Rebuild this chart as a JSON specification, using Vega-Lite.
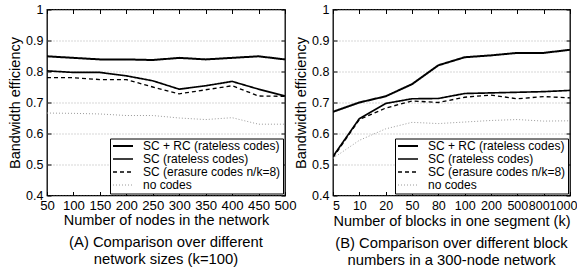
{
  "$schema": "https://vega.github.io/schema/vega-lite/v6.json",
  "background": "white",
  "padding": {"left": 6, "top": 2.5, "right": 4, "bottom": 2},
  "spacing": 48,
  "bounds": "flush",
  "config": {
    "font": "Liberation Sans",
    "view": {"stroke": "black", "strokeWidth": 1.3},
    "axis": {
      "labelFont": "Liberation Sans",
      "titleFont": "Liberation Sans",
      "labelFontSize": 12.5,
      "titleFontSize": 14.5,
      "titleFontWeight": "normal",
      "labelColor": "black",
      "titleColor": "black",
      "tickColor": "black",
      "domain": false,
      "tickSize": -4,
      "labelPadding": 8,
      "labelFlush": false,
      "labelOverlap": false,
      "labelBound": false,
      "gridColor": "#9a9a9a",
      "gridDash": [1, 2],
      "gridWidth": 0.8
    },
    "axisX": {"labelFontSize": 13.2},
    "legend": {
      "orient": "bottom-right",
      "offset": 2,
      "fillColor": "white",
      "strokeColor": "black",
      "padding": 2,
      "symbolType": "stroke",
      "symbolSize": 400,
      "clipHeight": 11,
      "labelFontSize": 12,
      "labelFont": "Liberation Sans",
      "labelColor": "black",
      "rowPadding": 0,
      "labelOffset": 9,
      "title": null
    },
    "title": {"font": "Liberation Sans", "fontSize": 14.8, "fontWeight": "normal", "color": "black", "lineHeight": 17}
  },
  "datasets": {
    "A": [
      {"n": 50, "series": "SC + RC (rateless codes)", "eff": 0.849},
      {"n": 100, "series": "SC + RC (rateless codes)", "eff": 0.844},
      {"n": 150, "series": "SC + RC (rateless codes)", "eff": 0.839},
      {"n": 200, "series": "SC + RC (rateless codes)", "eff": 0.839},
      {"n": 250, "series": "SC + RC (rateless codes)", "eff": 0.837},
      {"n": 300, "series": "SC + RC (rateless codes)", "eff": 0.844},
      {"n": 350, "series": "SC + RC (rateless codes)", "eff": 0.839},
      {"n": 400, "series": "SC + RC (rateless codes)", "eff": 0.844},
      {"n": 450, "series": "SC + RC (rateless codes)", "eff": 0.849},
      {"n": 500, "series": "SC + RC (rateless codes)", "eff": 0.839},
      {"n": 50, "series": "SC (rateless codes)", "eff": 0.802},
      {"n": 100, "series": "SC (rateless codes)", "eff": 0.797},
      {"n": 150, "series": "SC (rateless codes)", "eff": 0.797},
      {"n": 200, "series": "SC (rateless codes)", "eff": 0.786},
      {"n": 250, "series": "SC (rateless codes)", "eff": 0.770},
      {"n": 300, "series": "SC (rateless codes)", "eff": 0.743},
      {"n": 350, "series": "SC (rateless codes)", "eff": 0.754},
      {"n": 400, "series": "SC (rateless codes)", "eff": 0.768},
      {"n": 450, "series": "SC (rateless codes)", "eff": 0.743},
      {"n": 500, "series": "SC (rateless codes)", "eff": 0.721},
      {"n": 50, "series": "SC (erasure codes n/k=8)", "eff": 0.780},
      {"n": 100, "series": "SC (erasure codes n/k=8)", "eff": 0.780},
      {"n": 150, "series": "SC (erasure codes n/k=8)", "eff": 0.774},
      {"n": 200, "series": "SC (erasure codes n/k=8)", "eff": 0.774},
      {"n": 250, "series": "SC (erasure codes n/k=8)", "eff": 0.750},
      {"n": 300, "series": "SC (erasure codes n/k=8)", "eff": 0.728},
      {"n": 350, "series": "SC (erasure codes n/k=8)", "eff": 0.741},
      {"n": 400, "series": "SC (erasure codes n/k=8)", "eff": 0.754},
      {"n": 450, "series": "SC (erasure codes n/k=8)", "eff": 0.721},
      {"n": 500, "series": "SC (erasure codes n/k=8)", "eff": 0.720},
      {"n": 50, "series": "no codes", "eff": 0.666},
      {"n": 100, "series": "no codes", "eff": 0.665},
      {"n": 150, "series": "no codes", "eff": 0.663},
      {"n": 200, "series": "no codes", "eff": 0.658},
      {"n": 250, "series": "no codes", "eff": 0.658},
      {"n": 300, "series": "no codes", "eff": 0.650},
      {"n": 350, "series": "no codes", "eff": 0.645},
      {"n": 400, "series": "no codes", "eff": 0.651},
      {"n": 450, "series": "no codes", "eff": 0.630},
      {"n": 500, "series": "no codes", "eff": 0.630}
    ],
    "B": [
      {"k": "5", "series": "SC + RC (rateless codes)", "eff": 0.670},
      {"k": "10", "series": "SC + RC (rateless codes)", "eff": 0.700},
      {"k": "20", "series": "SC + RC (rateless codes)", "eff": 0.720},
      {"k": "50", "series": "SC + RC (rateless codes)", "eff": 0.759},
      {"k": "80", "series": "SC + RC (rateless codes)", "eff": 0.820},
      {"k": "100", "series": "SC + RC (rateless codes)", "eff": 0.846},
      {"k": "200", "series": "SC + RC (rateless codes)", "eff": 0.852},
      {"k": "500", "series": "SC + RC (rateless codes)", "eff": 0.860},
      {"k": "800", "series": "SC + RC (rateless codes)", "eff": 0.860},
      {"k": "1000", "series": "SC + RC (rateless codes)", "eff": 0.870},
      {"k": "5", "series": "SC (rateless codes)", "eff": 0.526},
      {"k": "10", "series": "SC (rateless codes)", "eff": 0.648},
      {"k": "20", "series": "SC (rateless codes)", "eff": 0.697},
      {"k": "50", "series": "SC (rateless codes)", "eff": 0.712},
      {"k": "80", "series": "SC (rateless codes)", "eff": 0.713},
      {"k": "100", "series": "SC (rateless codes)", "eff": 0.729},
      {"k": "200", "series": "SC (rateless codes)", "eff": 0.731},
      {"k": "500", "series": "SC (rateless codes)", "eff": 0.733},
      {"k": "800", "series": "SC (rateless codes)", "eff": 0.735},
      {"k": "1000", "series": "SC (rateless codes)", "eff": 0.739},
      {"k": "5", "series": "SC (erasure codes n/k=8)", "eff": 0.522},
      {"k": "10", "series": "SC (erasure codes n/k=8)", "eff": 0.645},
      {"k": "20", "series": "SC (erasure codes n/k=8)", "eff": 0.682},
      {"k": "50", "series": "SC (erasure codes n/k=8)", "eff": 0.705},
      {"k": "80", "series": "SC (erasure codes n/k=8)", "eff": 0.700},
      {"k": "100", "series": "SC (erasure codes n/k=8)", "eff": 0.717},
      {"k": "200", "series": "SC (erasure codes n/k=8)", "eff": 0.724},
      {"k": "500", "series": "SC (erasure codes n/k=8)", "eff": 0.712},
      {"k": "800", "series": "SC (erasure codes n/k=8)", "eff": 0.719},
      {"k": "1000", "series": "SC (erasure codes n/k=8)", "eff": 0.715},
      {"k": "5", "series": "no codes", "eff": 0.520},
      {"k": "10", "series": "no codes", "eff": 0.578},
      {"k": "20", "series": "no codes", "eff": 0.615},
      {"k": "50", "series": "no codes", "eff": 0.636},
      {"k": "80", "series": "no codes", "eff": 0.632},
      {"k": "100", "series": "no codes", "eff": 0.637},
      {"k": "200", "series": "no codes", "eff": 0.642},
      {"k": "500", "series": "no codes", "eff": 0.645},
      {"k": "800", "series": "no codes", "eff": 0.640},
      {"k": "1000", "series": "no codes", "eff": 0.641}
    ]
  },
  "hconcat": [
    {
      "width": 238,
      "height": 186,
      "data": {"name": "A"},
      "title": {"text": ["(A) Comparison over different", "network sizes (k=100)"], "orient": "bottom", "anchor": "middle", "offset": 8},
      "layer": [
        {
          "mark": {"type": "line", "clip": true},
          "encoding": {
            "x": {"field": "n", "type": "quantitative", "scale": {"domain": [50, 500], "nice": false},
              "axis": {"orient": "bottom", "values": [50, 100, 150, 200, 250, 300, 350, 400, 450, 500], "title": "Number of nodes in the network", "grid": false, "titlePadding": 2}},
            "y": {"field": "eff", "type": "quantitative", "scale": {"domain": [0.4, 1], "nice": false, "zero": false},
              "axis": {"orient": "left", "values": [0.4, 0.5, 0.6, 0.7, 0.8, 0.9, 1], "format": ".1~f", "title": "Bandwidth efficiency", "grid": true, "titlePadding": 3}},
            "color": {"field": "series", "type": "nominal", "title": null,
              "scale": {"domain": ["SC + RC (rateless codes)", "SC (rateless codes)", "SC (erasure codes n/k=8)", "no codes"], "range": ["black", "black", "black", "#9a9a9a"]}},
            "strokeWidth": {"field": "series", "type": "nominal", "title": null,
              "scale": {"domain": ["SC + RC (rateless codes)", "SC (rateless codes)", "SC (erasure codes n/k=8)", "no codes"], "range": [2, 1, 1, 1]}},
            "strokeDash": {"field": "series", "type": "nominal", "title": null,
              "scale": {"domain": ["SC + RC (rateless codes)", "SC (rateless codes)", "SC (erasure codes n/k=8)", "no codes"], "range": [[1, 0], [1, 0], [4, 3], [1, 2]]}}
          }
        },
        {
          "mark": {"type": "point", "opacity": 0},
          "encoding": {
            "x": {"field": "n", "type": "quantitative", "scale": {"domain": [50, 500], "nice": false},
              "axis": {"orient": "top", "values": [50, 100, 150, 200, 250, 300, 350, 400, 450, 500], "labels": false, "title": null, "grid": false}},
            "y": {"field": "eff", "type": "quantitative", "scale": {"domain": [0.4, 1], "nice": false, "zero": false},
              "axis": {"orient": "right", "values": [0.4, 0.5, 0.6, 0.7, 0.8, 0.9, 1], "labels": false, "title": null, "grid": false}}
          }
        }
      ],
      "resolve": {"axis": {"x": "independent", "y": "independent"}}
    },
    {
      "width": 237,
      "height": 186,
      "data": {"name": "B"},
      "title": {"text": ["(B) Comparison over different block", "numbers in a 300-node network"], "orient": "bottom", "anchor": "middle", "offset": 8},
      "layer": [
        {
          "mark": {"type": "line", "clip": true},
          "encoding": {
            "x": {"field": "k", "type": "ordinal", "sort": ["5", "10", "20", "50", "80", "100", "200", "500", "800", "1000"], "scale": {"type": "point", "padding": 0},
              "axis": {"orient": "bottom", "labelAngle": 0, "title": "Number of blocks in one segment (k)", "grid": false, "titlePadding": 2,
                "labelFontSize": 12.5,
                "labelOffset": {"condition": [{"test": "datum.label == '1000'", "value": -7}, {"test": "datum.label == '800'", "value": -5}, {"test": "datum.label == '5'", "value": 3}], "value": 0}}},
            "y": {"field": "eff", "type": "quantitative", "scale": {"domain": [0.4, 1], "nice": false, "zero": false},
              "axis": {"orient": "left", "values": [0.4, 0.5, 0.6, 0.7, 0.8, 0.9, 1], "format": ".1~f", "title": "Bandwidth efficiency", "grid": true, "titlePadding": 3}},
            "color": {"field": "series", "type": "nominal", "title": null,
              "scale": {"domain": ["SC + RC (rateless codes)", "SC (rateless codes)", "SC (erasure codes n/k=8)", "no codes"], "range": ["black", "black", "black", "#9a9a9a"]}},
            "strokeWidth": {"field": "series", "type": "nominal", "title": null,
              "scale": {"domain": ["SC + RC (rateless codes)", "SC (rateless codes)", "SC (erasure codes n/k=8)", "no codes"], "range": [2, 1, 1, 1]}},
            "strokeDash": {"field": "series", "type": "nominal", "title": null,
              "scale": {"domain": ["SC + RC (rateless codes)", "SC (rateless codes)", "SC (erasure codes n/k=8)", "no codes"], "range": [[1, 0], [1, 0], [4, 3], [1, 2]]}}
          }
        },
        {
          "mark": {"type": "point", "opacity": 0},
          "encoding": {
            "x": {"field": "k", "type": "ordinal", "sort": ["5", "10", "20", "50", "80", "100", "200", "500", "800", "1000"], "scale": {"type": "point", "padding": 0},
              "axis": {"orient": "top", "labels": false, "title": null, "grid": false}},
            "y": {"field": "eff", "type": "quantitative", "scale": {"domain": [0.4, 1], "nice": false, "zero": false},
              "axis": {"orient": "right", "values": [0.4, 0.5, 0.6, 0.7, 0.8, 0.9, 1], "labels": false, "title": null, "grid": false}}
          }
        }
      ],
      "resolve": {"axis": {"x": "independent", "y": "independent"}}
    }
  ],
  "resolve": {"legend": {"color": "independent", "strokeWidth": "independent", "strokeDash": "independent"}, "scale": {"color": "independent", "strokeWidth": "independent", "strokeDash": "independent"}}
}
